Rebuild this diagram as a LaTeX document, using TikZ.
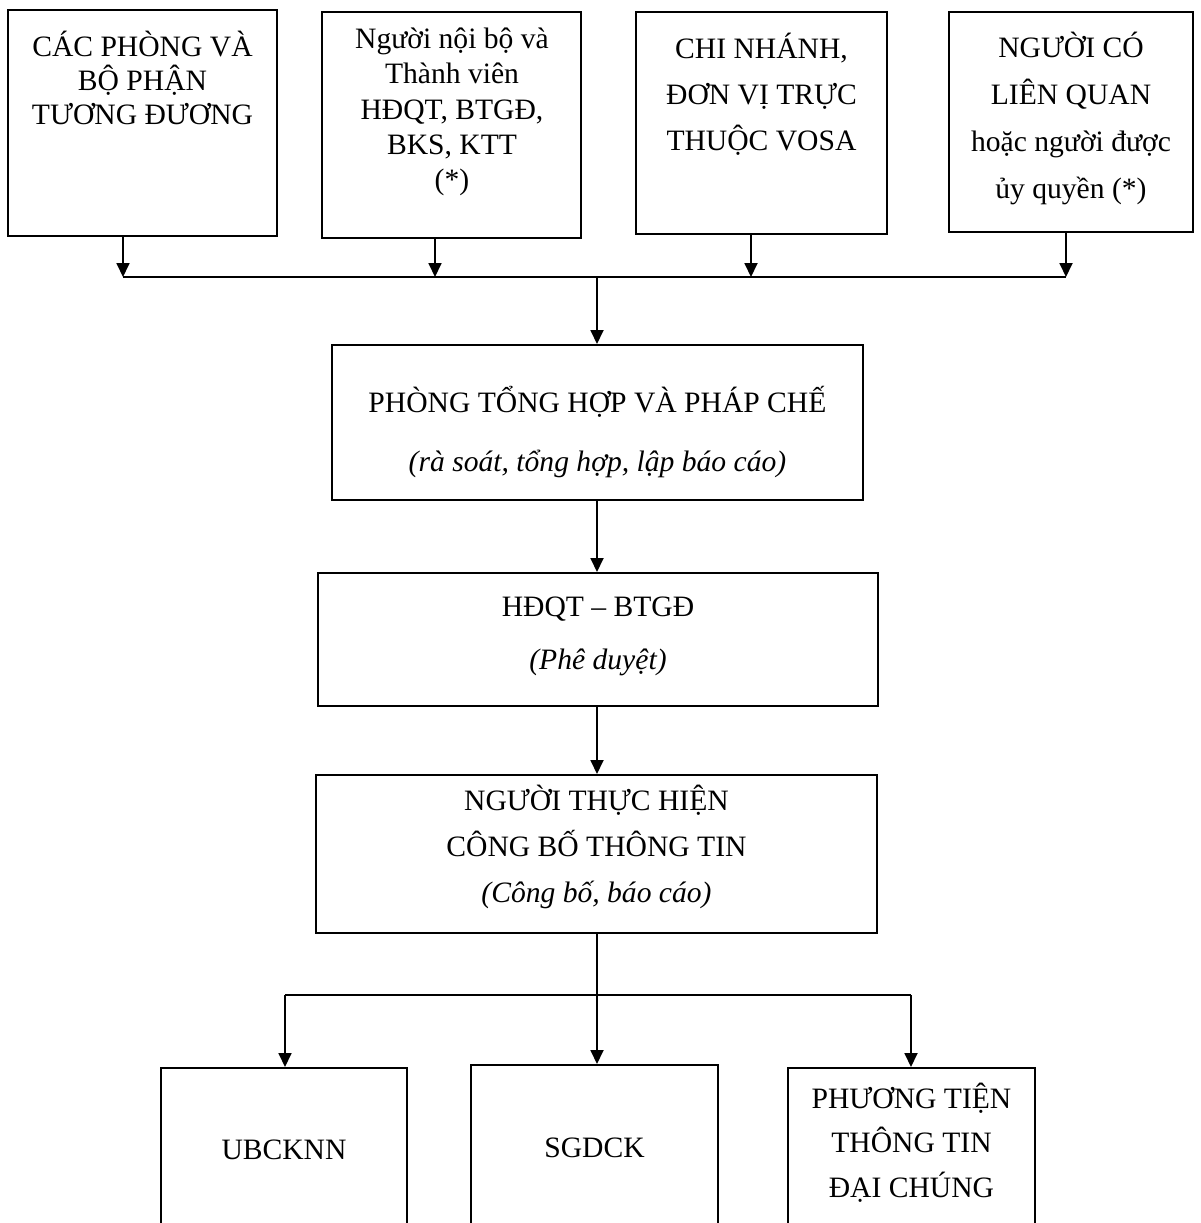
\documentclass[tikz,border=0pt]{standalone}
\usepackage{fontspec}
\setmainfont{Liberation Serif}
\usetikzlibrary{arrows.meta,fit}
\begin{document}
\begin{tikzpicture}[x=0.5pt,y=-0.5pt,
  box/.style={draw,line width=1pt,inner sep=0pt},
  txt/.style={align=center,inner sep=0pt,font=\fontsize{14.8pt}{#1}\selectfont},
  arr/.style={line width=0.9pt,-{Triangle[length=7pt,width=6.5pt]}},
  ln/.style={line width=0.9pt}]
\useasboundingbox (0,0) rectangle (1201,1223);
\clip (0,0) rectangle (1201,1223);
% top boxes
\node[box,fit={(8,10) (277,236)}] (b1) {};
\node[box,fit={(322,12) (581,238)}] (b2) {};
\node[box,fit={(636,12) (887,234)}] (b3) {};
\node[box,fit={(949,12) (1193,232)}] (b4) {};
\node[txt=17pt] (t1) at (142.5,78) {CÁC PHÒNG VÀ\\BỘ PHẬN\\TƯƠNG ĐƯƠNG};
\node[txt=17.6pt] (t2) at (452,112) {Người nội bộ và\\Thành viên\\HĐQT, BTGĐ,\\BKS, KTT\\(*)};
\node[txt=23pt] (t3) at (761.5,94) {CHI NHÁNH,\\ĐƠN VỊ TRỰC\\THUỘC VOSA};
\node[txt=23.5pt] (t4) at (1071,118.5) {NGƯỜI CÓ\\LIÊN QUAN\\hoặc người được\\ủy quyền (*)};
% middle boxes
\node[box,fit={(332,345) (863,500)}] (b5) {};
\node[txt=29.5pt] (t5) at (597.5,432.5) {PHÒNG TỔNG HỢP VÀ PHÁP CHẾ\\\textit{(rà soát, tổng hợp, lập báo cáo)}};
\node[box,fit={(318,573) (878,706)}] (b6) {};
\node[txt=26.5pt] (t6) at (598,636.5) {HĐQT – BTGĐ\\\textit{(Phê duyệt)}};
\node[box,fit={(316,775) (877,933)}] (b7) {};
\node[txt=23pt] (t7) at (596.5,847) {NGƯỜI THỰC HIỆN\\CÔNG BỐ THÔNG TIN\\\textit{(Công bố, báo cáo)}};
% bottom boxes
\node[box,fit={(161,1068) (407,1260)}] (b8) {};
\node[box,fit={(471,1065) (718,1260)}] (b9) {};
\node[box,fit={(788,1068) (1035,1260)}] (b10) {};
\node[txt=17pt] (t8) at (284,1150) {UBCKNN};
\node[txt=17pt] (t9) at (594.5,1148) {SGDCK};
\node[txt=22.25pt] (t10) at (911.5,1142.5) {PHƯƠNG TIỆN\\THÔNG TIN\\ĐẠI CHÚNG};
% top bus
\coordinate (j1) at (123,277);
\coordinate (j2) at (435,277);
\coordinate (j3) at (751,277);
\coordinate (j4) at (1066,277);
\coordinate (j0) at (597,277);
\draw[ln] (j1) -- (j4);
\draw[arr] (j1 |- b1.south) -- (j1);
\draw[arr] (j2 |- b2.south) -- (j2);
\draw[arr] (j3 |- b3.south) -- (j3);
\draw[arr] (j4 |- b4.south) -- (j4);
\draw[arr] (j0) -- (j0 |- b5.north);
\draw[arr] (j0 |- b5.south) -- (j0 |- b6.north);
\draw[arr] (j0 |- b6.south) -- (j0 |- b7.north);
% bottom bus
\coordinate (k1) at (285,995);
\coordinate (k3) at (911,995);
\draw[ln] (k1) -- (k3);
\draw[arr] (j0 |- b7.south) -- (j0 |- b9.north);
\draw[arr] (k1) -- (k1 |- b8.north);
\draw[arr] (k3) -- (k3 |- b10.north);
\end{tikzpicture}
\end{document}
